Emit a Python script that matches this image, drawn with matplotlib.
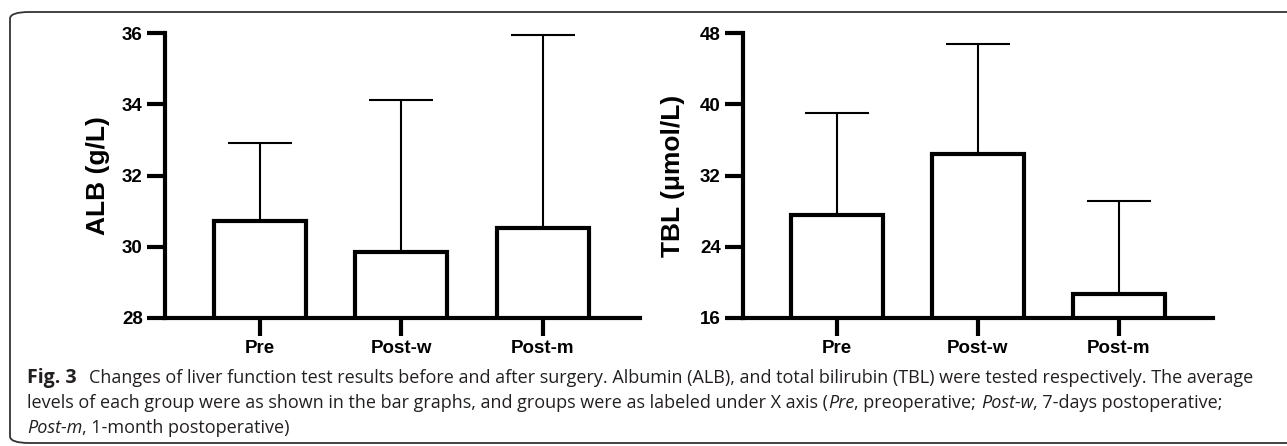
import matplotlib
matplotlib.use("Agg")
import matplotlib.pyplot as plt
from matplotlib.patches import FancyBboxPatch
from matplotlib import font_manager as fm

categories = ["Pre", "Post-w", "Post-m"]
alb_mean = [30.72, 29.86, 30.53]
alb_upper = [32.92, 34.11, 35.94]
tbl_mean = [27.6, 34.4, 18.7]
tbl_upper = [39.05, 46.8, 29.1]
alb_ticks = [28, 30, 32, 34, 36]
tbl_ticks = [16, 24, 32, 40, 48]

names = {f.name for f in fm.fontManager.ttflist}
tick_font = "Liberation Sans" if "Liberation Sans" in names else "DejaVu Sans"
cap_font = "Open Sans" if "Open Sans" in names else "DejaVu Sans"

W, H = 1287, 446
fig = plt.figure(figsize=(W / 100, H / 100), dpi=100)

def panel(rect, means, upper, ticks, ylabel, xl):
    ax = fig.add_axes(rect)
    x = list(range(len(categories)))
    errs = [u - m for u, m in zip(upper, means)]
    ax.errorbar(x, means, yerr=[[0] * len(means), errs], fmt="none",
                ecolor="black", elinewidth=1.5, capsize=23, capthick=1.5, zorder=1)
    ax.bar(x, means, width=0.65, color="white", edgecolor="black", linewidth=3, zorder=2)
    ax.set_ylim(ticks[0], ticks[-1])
    ax.set_xlim(*xl)
    ax.set_yticks(ticks)
    ax.set_xticks(x)
    ax.set_xticklabels(categories)
    for s in ["top", "right"]:
        ax.spines[s].set_visible(False)
    for s in ["left", "bottom"]:
        ax.spines[s].set_linewidth(3)
    ax.tick_params(axis="both", width=3, length=13, direction="out", pad=3)
    for lab in ax.get_xticklabels() + ax.get_yticklabels():
        lab.set_fontfamily(tick_font)
        lab.set_fontweight("bold")
        lab.set_fontsize(13.5)
    ax.set_ylabel(ylabel, fontsize=19, fontweight="bold", family=tick_font)
    ax.yaxis.label.set_va("center")
    return ax

ax1 = panel([165 / W, 1 - 318 / H, 475 / W, 285 / H], alb_mean, alb_upper, alb_ticks,
            "ALB (g/L)", (-0.671, 2.686))
ax2 = panel([743 / W, 1 - 318 / H, 470 / W, 285 / H], tbl_mean, tbl_upper, tbl_ticks,
            "TBL (μmol/L)", (-0.667, 2.667))
ax1.yaxis.set_label_coords(-(165 - 98) / 475, 0.5)
ax2.yaxis.set_label_coords(-(743 - 673) / 470, 0.5)

# border
border = FancyBboxPatch((10 / W, 3 / H), 1.2, 1 - 12 / H - 3 / H,
                        boxstyle="round,pad=0,rounding_size=0.015",
                        transform=fig.transFigure, fill=False,
                        edgecolor="#333333", linewidth=1.3)
fig.patches.append(border)

# caption
fs = 13.0
col = "#231f20"
renderer = fig.canvas.get_renderer()

def pieces(x_px, y_px, items):
    x = x_px
    for txt, kw in items:
        t = fig.text(x / W, 1 - y_px / H, txt, fontsize=kw.get("fs", fs), family=cap_font,
                     fontweight=kw.get("w", "normal"), fontstyle=kw.get("s", "normal"),
                     va="center", ha="left", color=col)
        bb = t.get_window_extent(renderer)
        x = bb.x1 + kw.get("gap", 0)

pieces(27, 378, [("Fig. 3", {"fs": 14, "w": "bold", "gap": 12}),
                 ("Changes of liver function test results before and after surgery. Albumin (ALB), and total bilirubin (TBL) were tested respectively. The average", {})])
pieces(27, 403, [("levels of each group were as shown in the bar graphs, and groups were as labeled under X axis (", {}),
                 ("Pre", {"s": "italic"}),
                 (", preoperative; ", {}),
                 ("Post-w", {"s": "italic"}),
                 (", 7-days postoperative;", {})])
pieces(27, 428, [("Post-m", {"s": "italic"}),
                 (", 1-month postoperative)", {})])

fig.savefig("out.png", dpi=100)
